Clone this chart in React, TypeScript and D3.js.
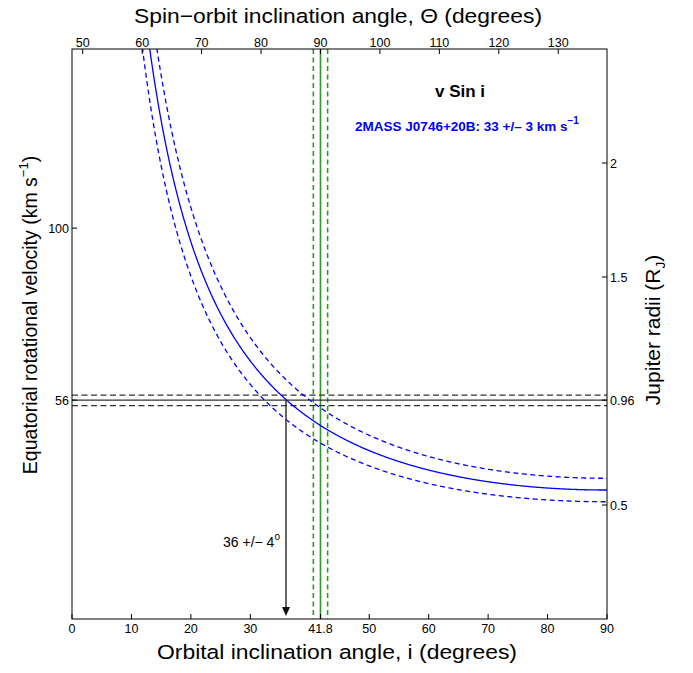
import React from "react";
import * as d3 from "d3";

// ---- data ----
const vsiniValues = [30, 33, 36]; // km/s : lower, measured, upper
const vsiniStyles = ["dash", "solid", "dash"];
const radiusVelocity = [56];       // equatorial velocity for R = 0.96 RJ
const radiusVelocityBand = [54.6, 57.3];
const orbitalIncl = [41.8];
const orbitalInclBand = [40.6, 43.0];
const inferredIncl = [36];
const bottomTicks = [0, 10, 20, 30, 41.8, 50, 60, 70, 80, 90];
const topTicks = [50, 60, 70, 80, 90, 100, 110, 120, 130];
const leftTicks = [100, 56];
const rightTicks = [2, 1.5, 0.96, 0.5];

const W = 693, H = 673;
const L = 72, R = 607, T = 49, B = 619;
const FONT = "'Liberation Sans', Arial, Helvetica, sans-serif";

export default function App() {
  const x = d3.scaleLinear().domain([0, 90]).range([L, R]);
  const xTop = d3.scaleLinear().domain([48.2, 138.2]).range([L, R]);
  const vMax = (2.5 * 56) / 0.96;
  const y = d3.scaleLinear().domain([0, vMax]).range([B, T]);
  const yR = d3.scaleLinear().domain([0, 2.5]).range([B, T]);

  const incl = d3.range(8, 90.0001, 0.1);

  const curvePath = (vs: number) =>
    d3
      .line<number>()
      .x((d) => x(d))
      .y((d) => y(vs / Math.sin((d * Math.PI) / 180)))(incl) as string;

  const blue = "#0000ff";
  const green = "#2e9a2e";
  const dark = "#333333";
  const tickLen = 5;

  const arrowX = x(inferredIncl[0]);
  const arrowTop = y(radiusVelocity[0]);

  return (
    <svg
      width={W}
      height={H}
      style={{ position: "absolute", left: 0, top: 0, background: "#fff" }}
      fontFamily={FONT}
    >
      <defs>
        <clipPath id="plot">
          <rect x={L} y={T} width={R - L} height={B - T} />
        </clipPath>
      </defs>
      <rect x={0} y={0} width={W} height={H} fill="#fff" />

      <g clipPath="url(#plot)">
        {/* green vertical lines */}
        {orbitalInclBand.map((v, k) => (
          <line key={"gb" + k} x1={x(v)} x2={x(v)} y1={T} y2={B} stroke={green} strokeWidth={1.6} strokeDasharray="5,3.5" />
        ))}
        {orbitalIncl.map((v, k) => (
          <line key={"g" + k} x1={x(v)} x2={x(v)} y1={T} y2={B} stroke={green} strokeWidth={1.6} />
        ))}
        {/* black horizontal lines */}
        {radiusVelocityBand.map((v, k) => (
          <line key={"hb" + k} x1={L} x2={R} y1={y(v)} y2={y(v)} stroke={dark} strokeWidth={1.3} strokeDasharray="6,3.5" />
        ))}
        {radiusVelocity.map((v, k) => (
          <line key={"h" + k} x1={L} x2={R} y1={y(v)} y2={y(v)} stroke={dark} strokeWidth={1.3} />
        ))}
        {/* blue curves */}
        {vsiniValues.map((vs, k) => (
          <path
            key={"c" + k}
            d={curvePath(vs)}
            fill="none"
            stroke={blue}
            strokeWidth={1.3}
            strokeDasharray={vsiniStyles[k] === "dash" ? "5,3.5" : undefined}
          />
        ))}
        {/* arrow */}
        <line x1={arrowX} x2={arrowX} y1={arrowTop} y2={B - 10} stroke={dark} strokeWidth={1.5} />
        <path d={`M${arrowX - 4},${B - 12} L${arrowX + 4},${B - 12} L${arrowX},${B - 3} Z`} fill="#111" />
      </g>

      {/* frame */}
      <rect x={L} y={T} width={R - L} height={B - T} fill="none" stroke="#000" strokeWidth={1} />

      {/* bottom ticks */}
      {bottomTicks.map((t) => (
        <g key={"bt" + t}>
          <line x1={x(t)} x2={x(t)} y1={B} y2={B - tickLen} stroke="#000" />
          <text x={x(t)} y={B + 14} fontSize={12.5} textAnchor="middle" fill="#000">
            {t}
          </text>
        </g>
      ))}
      {/* top ticks */}
      {topTicks.map((t) => (
        <g key={"tt" + t}>
          <line x1={xTop(t)} x2={xTop(t)} y1={T} y2={T + tickLen} stroke="#000" />
          <text x={xTop(t)} y={T - 2.5} fontSize={12.5} textAnchor="middle" fill="#000">
            {t}
          </text>
        </g>
      ))}
      {/* left ticks */}
      {leftTicks.map((t) => (
        <g key={"lt" + t}>
          <line x1={L} x2={L + tickLen} y1={y(t)} y2={y(t)} stroke="#000" />
          <text x={L - 3} y={y(t) + 4.5} fontSize={12.5} textAnchor="end" fill="#000">
            {t}
          </text>
        </g>
      ))}
      {/* right ticks */}
      {rightTicks.map((t) => (
        <g key={"rt" + t}>
          <line x1={R} x2={R - tickLen} y1={yR(t)} y2={yR(t)} stroke="#000" />
          <text x={R + 3} y={yR(t) + 4.5} fontSize={12.5} textAnchor="start" fill="#000">
            {t}
          </text>
        </g>
      ))}

      {/* axis titles */}
      <text x={338} y={23} fontSize={20.5} textAnchor="middle" fill="#000" textLength={408} lengthAdjust="spacingAndGlyphs">
        Spin−orbit inclination angle, Θ (degrees)
      </text>
      <text x={337} y={659} fontSize={20.5} textAnchor="middle" fill="#000" textLength={360} lengthAdjust="spacingAndGlyphs">
        Orbital inclination angle, i (degrees)
      </text>
      <text transform={`translate(37,315) rotate(-90)`} fontSize={19.5} textAnchor="middle" fill="#000">
        Equatorial rotational velocity (km s
        <tspan fontSize={13} dy={-9}>−1</tspan>
        <tspan dy={9}>)</tspan>
      </text>
      <text transform={`translate(660,330) rotate(-90)`} fontSize={21} textAnchor="middle" fill="#000">
        Jupiter radii (R
        <tspan fontSize={13.5} dy={5}>J</tspan>
        <tspan dy={-5}>)</tspan>
      </text>

      {/* annotations */}
      <text x={460} y={97} fontSize={17} fontWeight="bold" textAnchor="middle" fill="#000">
        v Sin i
      </text>
      <text x={467} y={131} fontSize={13.5} fontWeight="bold" textAnchor="middle" fill={blue}>
        2MASS J0746+20B: 33 +/– 3 km s
        <tspan fontSize={10} dy={-7}>−1</tspan>
      </text>
      <text x={223} y={547} fontSize={14} fill="#000">
        36 +/− 4
        <tspan fontSize={10} dy={-7}>o</tspan>
      </text>
    </svg>
  );
}
